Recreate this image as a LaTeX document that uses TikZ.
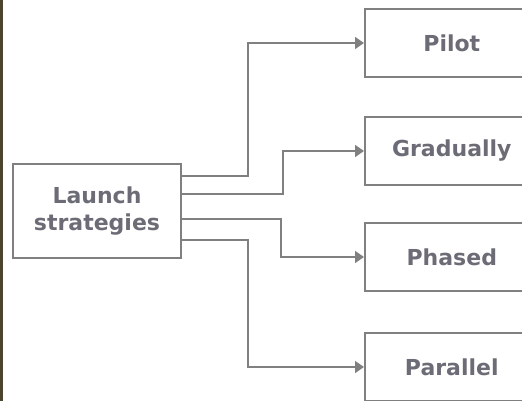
\documentclass[tikz,border=0pt]{standalone}
\usepackage{fontspec}
\setmainfont{DejaVu Sans}
\usetikzlibrary{arrows.meta}
\definecolor{edgegray}{RGB}{128,128,128}
\definecolor{labelgray}{RGB}{108,108,118}
\definecolor{stripolive}{RGB}{75,69,48}
\tikzset{
  stratbox/.style={draw=edgegray,line width=1.6pt,fill=white,inner sep=0pt,
    font=\fontsize{22}{27}\selectfont\bfseries,text=labelgray,align=center},
  link/.style={draw=edgegray,line width=1.6pt,-{Triangle[length=9pt,width=12pt]}}
}
\begin{document}
\begin{tikzpicture}[x=1pt,y=1pt,yscale=-1,xscale=1]
\useasboundingbox (0,0) rectangle (522,401);
%Left strip
\fill[stripolive] (0,0) rectangle (3,401);

% Source box
\node[stratbox,minimum width=168pt,minimum height=94pt] (launch) at (97,211) {Launch\\strategies};
% Target boxes
\node[stratbox,minimum width=174pt,minimum height=68pt,anchor=west] (pilot) at (364,43) {Pilot};
\node[stratbox,minimum width=174pt,minimum height=68pt,anchor=west] (gradual) at (364,151) {Gradually};
\node[stratbox,minimum width=174pt,minimum height=68pt,anchor=west] (phased) at (364,257) {Phased};
\node[stratbox,minimum width=174pt,minimum height=68pt,anchor=west] (parallel) at (364,367) {Parallel};

% Connectors
\draw[link] ([yshift=-35pt]launch.east) -- ++(66,0) |- (pilot.west);
\draw[link] ([yshift=-17pt]launch.east) -- ++(101,0) |- (gradual.west);
\draw[link] ([yshift=8pt]launch.east) -- ++(99,0) |- (phased.west);
\draw[link] ([yshift=29pt]launch.east) -- ++(66,0) |- (parallel.west);
\end{tikzpicture}
\end{document}
